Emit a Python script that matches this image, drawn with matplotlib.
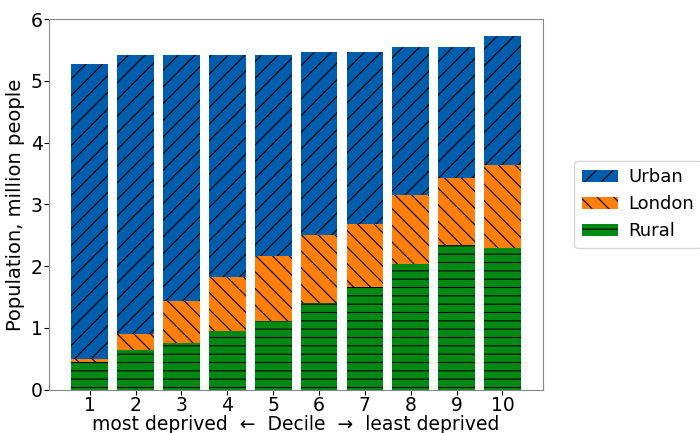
import matplotlib
matplotlib.use("Agg")
import matplotlib.pyplot as plt
import numpy as np

deciles = [1, 2, 3, 4, 5, 6, 7, 8, 9, 10]
# population per decile, million people
rural = np.array([0.45, 0.65, 0.76, 0.95, 1.12, 1.40, 1.66, 2.03, 2.34, 2.30])
london = np.array([0.05, 0.25, 0.67, 0.88, 1.04, 1.10, 1.03, 1.12, 1.08, 1.34])
urban = np.array([4.78, 4.51, 3.98, 3.58, 3.26, 2.96, 2.78, 2.40, 2.13, 2.09])

plt.rcParams['hatch.linewidth'] = 0.8
fig = plt.figure(figsize=(7, 4.33), dpi=100)
ax = fig.add_axes([0.07, 0.1, 0.706, 0.856])

ax.bar(deciles, rural, color='#008a14', hatch='--', edgecolor='black', linewidth=0, label='Rural')
ax.bar(deciles, london, bottom=rural, color='#ff7f0e', hatch='\\\\', edgecolor='black', linewidth=0, label='London')
ax.bar(deciles, urban, bottom=rural + london, color='#005dab', hatch='//', edgecolor='black', linewidth=0, label='Urban')

ax.set_ylim(0, 6)
ax.set_xticks(deciles)
ax.tick_params(labelsize=13.5, pad=1)
ax.set_ylabel('Population, million people', fontsize=14, labelpad=4)
ax.set_xlabel('most deprived  \u2190  Decile  \u2192  least deprived', fontsize=13.5, labelpad=0)
for s in ax.spines.values():
    s.set_color('#888888')

h, l = ax.get_legend_handles_labels()
ax.legend(h[::-1], l[::-1], loc='center left', bbox_to_anchor=(1.045, 0.5), fontsize=13,
          handletextpad=0.6)

fig.savefig('out.png', dpi=100)
